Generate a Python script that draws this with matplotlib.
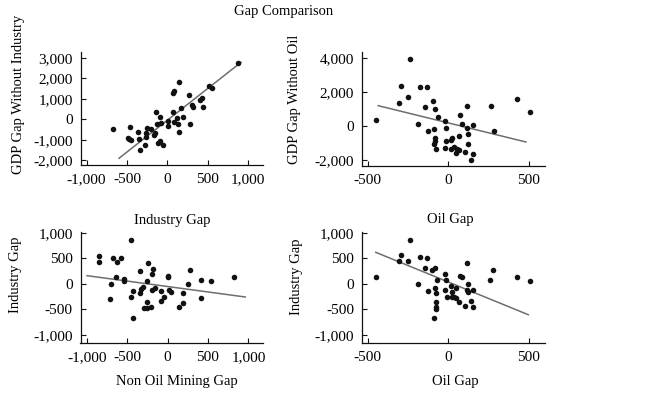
import numpy as np
import matplotlib
matplotlib.use("Agg")
import matplotlib.pyplot as plt
from matplotlib.ticker import FuncFormatter, FixedLocator

plt.rcParams['font.family'] = ['Liberation Serif', 'DejaVu Serif']

# ---------------- data ----------------
tl_x = [-668, -458, -491, -445, -470, -363, -351, -334, -276, -260, -252, -268, -157, -161, -116, -58, -87,
        -140, -95, -132, -74, 4, 12, 74, 70, 87, 140, 78, 124, 144, 165, 190, 136, 264, 285, 301, 314, 404,
        425, 441, 516, 557, 874, -198]
tl_y = [-487, -357, -909, -1006, -950, -617, -974, -1493, -1233, -844, -422, -649, -649, -779, -1136, -1266,
        -1039, 373, 97, -227, -162, -65, -325, 373, 1298, 1363, 1834, -146, 49, -633, 552, 130, -211, 1168,
        -227, 698, 584, 941, 1039, 617, 1623, 1526, 2759, -471]
tl_fit_x = [-598, 912]
tl_fit_y = [-1899, 2775]

tr_x = [-449, -296, -306, -248, -238, -174, -130, -188, -145, -95, -83, -66, -124, -89, -81, -83, -87, -74,
        -21, -17, -12, -19, 17, 23, 19, 37, 46, 66, 68, 75, 83, 116, 114, 124, 124, 104, 141, 151, 155, 263,
        282, 428, 505, 52]
tr_y = [374, 2380, 1377, 1731, 3934, 2282, 2282, 118, 1141, 1495, 984, 551, -275, -197, -728, -866, -1062,
        -1338, 315, -98, -885, -1279, -826, -688, -1357, -1220, -1613, -1416, -590, 649, 138, 1180, -118,
        -472, -1082, -1515, -2006, -1652, 59, 1180, -275, 1574, 806, -1338]
tr_fit_x = [-435, 482]
tr_fit_y = [1200, -944]

bl_x = [-843, -843, -674, -625, -575, -637, -699, -707, -543, -534, -456, -456, -427, -427, -341, -337, -329,
        -308, -296, -255, -255, -251, -238, -210, -193, -160, -189, -181, -82, -86, -49, 4, 4, 21, 37, 136,
        193, 197, 247, 279, 419, 419, 543, 818]
bl_y = [556, 425, 510, 425, 517, 137, 0, -288, 105, 65, 863, -262, -137, -667, 249, -177, -92, -59, -471,
        -471, -353, 65, 405, -458, -124, -78, 190, 301, -144, -334, -262, 163, 131, -118, -164, -445, -170,
        -366, 0, 268, 72, -275, 52, 131]
bl_fit_x = [-995, 962]
bl_fit_y = [163, -255]

br_x = [-450, -295, -306, -248, -236, -176, -130, -188, -147, -99, -83, -68, -124, -85, -76, -78, -78, -76,
        -87, -23, -14, -19, -10, 17, 21, 25, 37, 45, 50, 68, 72, 83, 116, 120, 124, 114, 101, 141, 151, 155,
        260, 279, 428, 504]
br_y = [144, 562, 445, 445, 870, 536, 517, 7, 307, 268, 314, 78, -131, -78, -183, -353, -458, -484, -667,
        190, 78, -111, -262, -46, -157, -249, -262, -275, -78, -347, 163, 131, 412, 7, -157, -111, -438,
        -327, -451, -124, 85, 281, 144, 65]
br_fit_x = [-450, 496]
br_fit_y = [621, -602]

title = "Gap Comparison"
xticks_wide = [-1000, -500, 0, 500, 1000]
xticks_oil = [-500, 0, 500]
yticks_tl = [-2000, -1000, 0, 1000, 2000, 3000]
yticks_tr = [-2000, 0, 2000, 4000]
yticks_ind = [-1000, -500, 0, 500, 1000]

# ---------------- figure ----------------
W, H = 661, 395
fig = plt.figure(figsize=(W / 100, H / 100), dpi=100)


def px_axes(left, right, top, bottom):
    return fig.add_axes([left / W, 1 - bottom / H, (right - left) / W, (bottom - top) / H])


fmt = FuncFormatter(lambda v, p: f"{v:,.0f}".replace("\u2212", "-"))


def style(ax, x, y, fx, fy, xlim, ylim, xt, yt):
    ax.scatter(x, y, s=16, color="#111111", linewidths=0, zorder=3)
    ax.plot(fx, fy, color="#6e6e6e", lw=1.1, zorder=2)
    ax.set_xlim(*xlim)
    ax.set_ylim(*ylim)
    ax.xaxis.set_major_locator(FixedLocator(xt))
    ax.yaxis.set_major_locator(FixedLocator(yt))
    ax.xaxis.set_major_formatter(fmt)
    ax.yaxis.set_major_formatter(fmt)
    for s in ("top", "right"):
        ax.spines[s].set_visible(False)
    for s in ("left", "bottom"):
        ax.spines[s].set_linewidth(0.9)
        ax.spines[s].set_color("#111111")
    ax.tick_params(direction="in", length=3.5, width=0.8, labelsize=11, color="#111111")
    ax.tick_params(axis="x", pad=6)
    ax.tick_params(axis="y", pad=5.5)


ax1 = px_axes(80.7, 263.3, 52, 165)
style(ax1, tl_x, tl_y, tl_fit_x, tl_fit_y, (-1072, 1188), (-2226, 3278), xticks_wide, yticks_tl)
ax1.set_ylabel("GDP Gap Without Industry", fontsize=10.5)
ax1.yaxis.set_label_coords(-0.343, 0.628)

ax2 = px_axes(361.7, 545, 52, 166)
style(ax2, tr_x, tr_y, tr_fit_x, tr_fit_y, (-537, 600), (-2360, 4366), xticks_oil, yticks_tr)
ax2.set_ylabel("GDP Gap Without Oil", fontsize=10.5)
ax2.yaxis.set_label_coords(-0.364, 0.588)

ax3 = px_axes(80.5, 263.3, 231.7, 342.7)
style(ax3, bl_x, bl_y, bl_fit_x, bl_fit_y, (-1076, 1184), (-1151, 1025), xticks_wide, yticks_ind)
ax3.set_ylabel("Industry Gap", fontsize=10.5)
ax3.yaxis.set_label_coords(-0.353, 0.61)
ax3.set_xlabel("Non Oil Mining Gap", fontsize=10.5)
ax3.xaxis.set_label_coords(0.528, -0.351)
ax3.xaxis.label.set_va("center")
ax3.text(0.503, 1.105, "Industry Gap", transform=ax3.transAxes, ha="center", va="center", fontsize=10.5)

ax4 = px_axes(361.7, 545, 231.7, 342.7)
style(ax4, br_x, br_y, br_fit_x, br_fit_y, (-537, 600), (-1151, 1025), xticks_oil, yticks_ind)
ax4.set_ylabel("Industry Gap", fontsize=10.5)
ax4.yaxis.set_label_coords(-0.355, 0.596)
ax4.set_xlabel("Oil Gap", fontsize=10.5)
ax4.xaxis.set_label_coords(0.511, -0.351)
ax4.xaxis.label.set_va("center")
ax4.text(0.486, 1.11, "Oil Gap", transform=ax4.transAxes, ha="center", va="center", fontsize=10.5)

for ax in (ax1, ax2, ax3, ax4):
    ax.yaxis.label.set_va("center")

fig.text(284 / W, 1 - 12 / H, title, ha="center", va="center", fontsize=10.5)

fig.savefig("out.png", dpi=100, facecolor="white")
